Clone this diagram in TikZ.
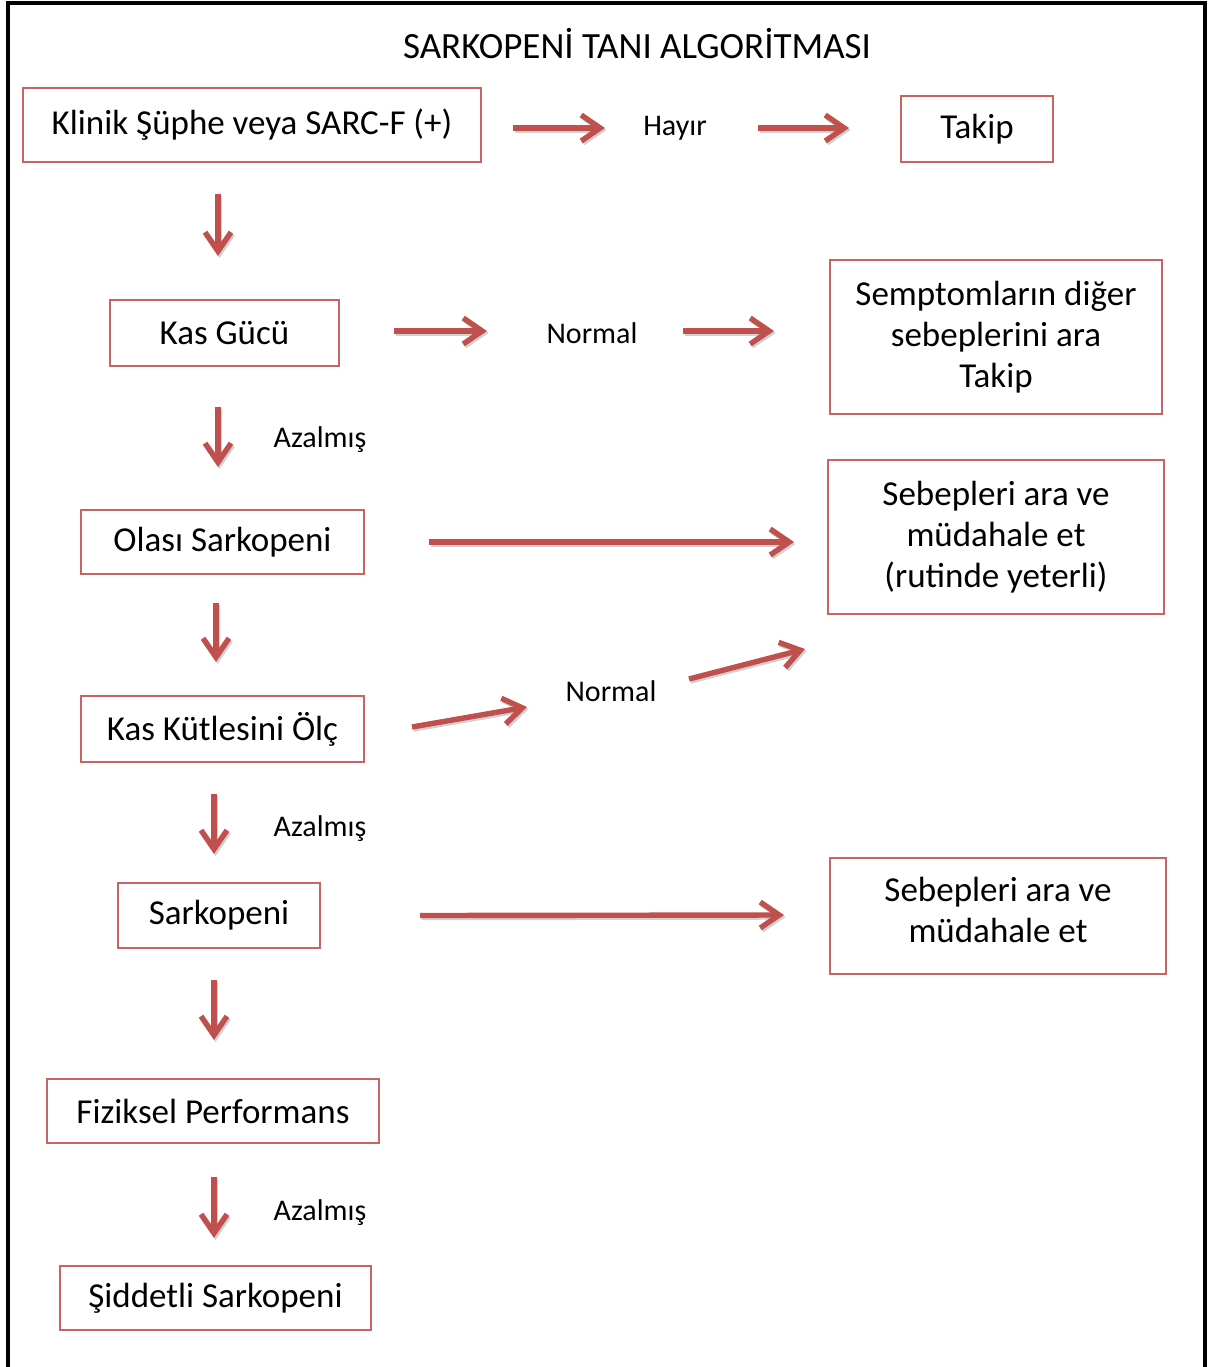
\documentclass[tikz,border=0pt]{standalone}
\usepackage{fontspec}
\setmainfont{Carlito}
\usetikzlibrary{arrows.meta,calc}

\definecolor{accent}{HTML}{C0504D}
\definecolor{boxline}{HTML}{C86464}

\tikzset{
  box/.style={draw=boxline, line width=1pt, inner sep=0pt, align=center,
    font=\fontsize{17.5}{20.5}\selectfont},
  lbl/.style={inner sep=0pt, font=\fontsize{15}{18}\selectfont},
  tip/.style={-{Straight Barb[length=9.5pt,width=13pt]}},
  arr/.style={draw=accent, line width=2.7pt, tip,
    preaction={draw=black!18, line width=2.7pt, tip,
      transform canvas={shift={(0.8pt,-1pt)}}}},
}

\begin{document}
\begin{tikzpicture}[x=0.5pt,y=-0.5pt]
\useasboundingbox (0,0) rectangle (1212,1367);
\fill[white] (0,0) rectangle (1212,1367);

% outer frame
\draw[line width=1.6pt, black] (8,1370) -- (8,3) -- (1205,3) -- (1205,1370);

% title
\node[font=\fontsize{18.5}{22}\selectfont] (title) at (637,44) {SARKOPENİ TANI ALGORİTMASI};

% boxes
\node[box, minimum width=229pt, minimum height=37pt] (klinik) at (252,125) {Klinik Şüphe veya SARC-F (+)};
\node[box, minimum width=76pt, minimum height=33pt] (takip) at (977,129) {Takip};
\node[box, minimum width=114.5pt, minimum height=33pt] (kasgucu) at (224.5,333) {Kas Gücü};
\node[box, minimum width=166pt, minimum height=77pt] (sempt) at (996,337) {Semptomların diğer\\sebeplerini ara\\Takip};
\node[box, minimum width=141.5pt, minimum height=32pt] (olasi) at (222.5,542) {Olası Sarkopeni};
\node[box, minimum width=168pt, minimum height=77pt] (seba) at (996,537) {Sebepleri ara ve\\müdahale et\\(rutinde yeterli)};
\node[box, minimum width=141.5pt, minimum height=33pt] (kaskutle) at (222.5,729) {Kas Kütlesini Ölç};
\node[box, minimum width=101pt, minimum height=32.5pt] (sark) at (219,915.5) {Sarkopeni};
\node[box, minimum width=168pt, minimum height=58pt] (sebb) at (998,916) {Sebepleri ara ve\\müdahale et\\[-20pt]\strut};
\node[box, minimum width=166pt, minimum height=32pt] (fiz) at (213,1111) {Fiziksel Performans};
\node[box, minimum width=155.5pt, minimum height=32pt] (sid) at (215.5,1298) {Şiddetli Sarkopeni};

% branch labels
\node[lbl] (hayir) at (675,128) {Hayır};
\node[lbl] (normala) at (592,333) {Normal};
\node[lbl] (aza) at (320,440) {Azalmış};
\node[lbl] (normalb) at (611,691) {Normal};
\node[lbl] (azb) at (320,829) {Azalmış};
\node[lbl] (azc) at (320,1213) {Azalmış};

% connectors
\draw[arr] ($(klinik.east)+(31,3)$) -- ($(hayir)+(-70,0)$);
\draw[arr] ($(hayir)+(83,0)$) -- ($(takip.west)+(-51,-1)$);
\draw[arr] ($(klinik.south)+(-34,31)$) -- ($(kasgucu.north)+(-6.5,-43)$);
\draw[arr] ($(kasgucu.east)+(54,-2)$) -- ($(normala)+(-105,-2)$);
\draw[arr] ($(normala)+(91,-2)$) -- ($(sempt.west)+(-55,-6)$);
\draw[arr] ($(kasgucu.south)+(-6.5,40)$) -- ($(olasi.north)+(-4.5,-42)$);
\draw[arr] ($(olasi.east)+(64,0)$) -- ($(seba.west)+(-33,5)$);
\draw[arr] ($(olasi.south)+(-6.5,28)$) -- ($(kaskutle.north)+(-6.5,-33)$);
\draw[arr] ($(kaskutle.east)+(47,-2)$) -- ($(normalb)+(-84,16)$);
\draw[arr] ($(normalb)+(78,-12)$) -- ($(seba.south west)+(-22,34)$);
\draw[arr] ($(kaskutle.south)+(-8.5,31)$) -- ($(sark.north)+(-5,-28)$);
\draw[arr] ($(sark.east)+(99,0)$) -- ($(sebb.west)+(-45,-1)$);
\draw[arr] ($(sark.south)+(-5,31)$) -- ($(fiz.north)+(1,-38)$);
\draw[arr] ($(fiz.south)+(1,33)$) -- ($(sid.north)+(-1.5,-27)$);
\end{tikzpicture}
\end{document}
